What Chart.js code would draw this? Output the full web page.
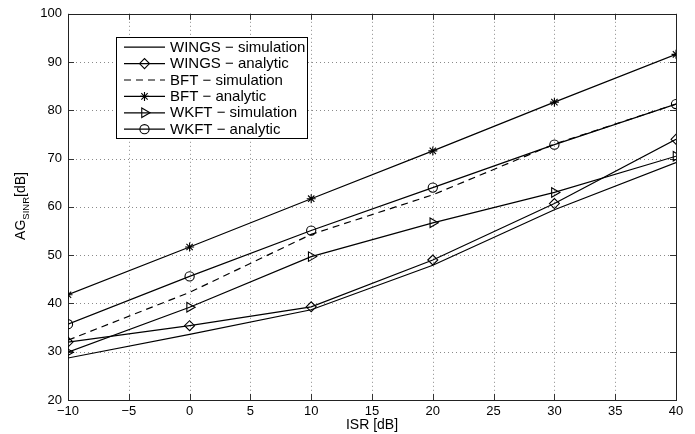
<!DOCTYPE html>
<html>
<head>
<meta charset="utf-8">
<script src="https://cdn.jsdelivr.net/npm/chart.js@4/dist/chart.umd.min.js"></script>
<style>
  html, body { margin: 0; padding: 0; background: #fff; }
  #wrap { width: 695px; height: 434px; }
</style>
</head>
<body>
<div id="wrap"><canvas id="c" width="695" height="434"></canvas></div>
<script>
// ISR sweep points [dB]
const isr = [-10, 0, 10, 20, 30, 40];

// Array gain of SINR [dB] per method
const wingsSim = [28.7, 33.6, 38.7, 47.9, 59.4, 69.2];
const wingsAna = [32.0, 35.4, 39.3, 49.0, 60.7, 74.0];
const bftSim   = [32.4, 42.3, 54.3, 62.5, 73.0, 81.3];
const bftAna   = [41.8, 51.7, 61.7, 71.6, 81.7, 91.6];
const wkftSim  = [29.9, 39.2, 49.7, 56.7, 63.0, 70.5];
const wkftAna  = [35.7, 45.6, 55.1, 64.0, 72.9, 81.3];

const seriesNames = [
  'WINGS \u2212 simulation', 'WINGS \u2212 analytic',
  'BFT \u2212 simulation', 'BFT \u2212 analytic',
  'WKFT \u2212 simulation', 'WKFT \u2212 analytic'
];

const xTicks = [-10, -5, 0, 5, 10, 15, 20, 25, 30, 35, 40];
const yTicks = [20, 30, 40, 50, 60, 70, 80, 90, 100];

const FONT = '"Liberation Sans", Arial, Helvetica, sans-serif';

function pts(ys) { return isr.map((x, i) => ({ x: x, y: ys[i] })); }

const styles = [
  { pointStyle: false, radius: 0, rotation: 0, dash: [] },
  { pointStyle: 'rectRot', radius: 5, rotation: 0, dash: [] },
  { pointStyle: false, radius: 0, rotation: 0, dash: [7, 5] },
  { pointStyle: 'star', radius: 4.5, rotation: 0, dash: [] },
  { pointStyle: 'triangle', radius: 5.5, rotation: 90, dash: [] },
  { pointStyle: 'circle', radius: 4.6, rotation: 0, dash: [] }
];
const values = [wingsSim, wingsAna, bftSim, bftAna, wkftSim, wkftAna];

const datasets = values.map((v, i) => ({
  label: seriesNames[i],
  data: pts(v),
  borderColor: '#000',
  borderWidth: 1.2,
  borderDash: styles[i].dash,
  pointStyle: styles[i].pointStyle || 'circle',
  pointRadius: styles[i].pointStyle ? styles[i].radius : 0,
  pointHoverRadius: styles[i].pointStyle ? styles[i].radius : 0,
  pointRotation: styles[i].rotation,
  pointBorderColor: '#000',
  pointBackgroundColor: 'rgba(0,0,0,0)',
  pointBorderWidth: 1.1,
  fill: false,
  tension: 0
}));

// Dotted grid, inward ticks, boxed frame, titles and legend
const framePlugin = {
  id: 'frame',
  beforeDatasetsDraw(chart) {
    const { ctx, chartArea: a, scales: { x, y } } = chart;
    ctx.save();
    ctx.strokeStyle = '#8a8a8a';
    ctx.lineWidth = 1;
    ctx.setLineDash([1, 3]);
    xTicks.forEach(v => {
      if (v === -10 || v === 40) return;
      const px = Math.round(x.getPixelForValue(v)) + 0.5;
      ctx.beginPath(); ctx.moveTo(px, a.top); ctx.lineTo(px, a.bottom); ctx.stroke();
    });
    yTicks.forEach(v => {
      if (v === 20 || v === 100) return;
      const py = Math.round(y.getPixelForValue(v)) + 0.5;
      ctx.beginPath(); ctx.moveTo(a.left, py); ctx.lineTo(a.right, py); ctx.stroke();
    });
    ctx.setLineDash([]);
    ctx.strokeStyle = '#333';
    const tl = 6;
    xTicks.forEach(v => {
      const px = Math.round(x.getPixelForValue(v)) + 0.5;
      ctx.beginPath();
      ctx.moveTo(px, a.bottom); ctx.lineTo(px, a.bottom - tl);
      ctx.moveTo(px, a.top); ctx.lineTo(px, a.top + tl);
      ctx.stroke();
    });
    yTicks.forEach(v => {
      const py = Math.round(y.getPixelForValue(v)) + 0.5;
      ctx.beginPath();
      ctx.moveTo(a.left, py); ctx.lineTo(a.left + tl, py);
      ctx.moveTo(a.right, py); ctx.lineTo(a.right - tl, py);
      ctx.stroke();
    });
    ctx.strokeStyle = '#222';
    ctx.strokeRect(Math.round(a.left) + 0.5, Math.round(a.top) + 0.5,
                   Math.round(a.right - a.left), Math.round(a.bottom - a.top));
    ctx.restore();
  },
  afterDraw(chart) {
    const { ctx, chartArea: a } = chart;
    ctx.save();
    // y-axis title with subscript
    ctx.translate(19, 206);
    ctx.rotate(-Math.PI / 2);
    ctx.fillStyle = '#000';
    ctx.textBaseline = 'alphabetic';
    const big = '14px ' + FONT, small = '9.5px ' + FONT;
    ctx.font = big; const w1 = ctx.measureText('AG').width;
    ctx.font = small; const w2 = ctx.measureText('SINR').width;
    ctx.font = big; const w3 = ctx.measureText('[dB]').width;
    let sx = -(w1 + w2 + w3) / 2;
    ctx.font = big; ctx.fillText('AG', sx, 6); sx += w1;
    ctx.font = small; ctx.fillText('SINR', sx, 10); sx += w2;
    ctx.font = big; ctx.fillText('[dB]', sx, 6);
    ctx.restore();

    // legend box
    ctx.save();
    const lx = 116.5, ly = 37.5, lw = 191, lh = 101;
    ctx.fillStyle = '#fff';
    ctx.fillRect(lx, ly, lw, lh);
    ctx.strokeStyle = '#000';
    ctx.lineWidth = 1;
    ctx.strokeRect(lx, ly, lw, lh);
    ctx.font = '15px ' + FONT;
    ctx.textBaseline = 'middle';
    ctx.fillStyle = '#000';
    const rowY0 = 47.2, rowStep = 16.4;
    seriesNames.forEach((name, i) => {
      const ry = rowY0 + i * rowStep;
      ctx.strokeStyle = '#000';
      ctx.lineWidth = 1.2;
      ctx.setLineDash(styles[i].dash);
      ctx.beginPath(); ctx.moveTo(124, ry); ctx.lineTo(165, ry); ctx.stroke();
      ctx.setLineDash([]);
      if (styles[i].pointStyle) {
        ctx.fillStyle = 'rgba(0,0,0,0)';
        ctx.lineWidth = 1.1;
        Chart.helpers.drawPoint(ctx, {
          pointStyle: styles[i].pointStyle,
          radius: styles[i].radius,
          rotation: styles[i].rotation,
          borderWidth: 1.1
        }, 144.5, ry);
      }
      ctx.fillStyle = '#000';
      ctx.fillText(name, 170, ry + 0.5);
    });
    ctx.restore();

    // x-axis title
    ctx.save();
    ctx.font = '14px ' + FONT;
    ctx.fillStyle = '#000';
    ctx.textAlign = 'center';
    ctx.textBaseline = 'middle';
    ctx.fillText('ISR [dB]', (a.left + a.right) / 2, 425);
    ctx.restore();
  }
};

const fmt = v => (v < 0 ? '\u2212' + Math.abs(v) : String(v));

new Chart(document.getElementById('c'), {
  type: 'line',
  data: { datasets: datasets },
  options: {
    responsive: false,
    animation: false,
    events: [],
    layout: { padding: { top: 10, right: 19, left: 0, bottom: 0 } },
    plugins: { legend: { display: false }, tooltip: { enabled: false } },
    scales: {
      x: {
        type: 'linear', min: -10, max: 40,
        afterBuildTicks: s => { s.ticks = xTicks.map(v => ({ value: v })); },
        afterFit: s => { s.height = 34; },
        grid: { display: false, drawTicks: false },
        border: { display: false },
        ticks: { padding: 4, color: '#000', font: { family: FONT, size: 13 },
                 maxRotation: 0, autoSkip: false, callback: v => fmt(v) }
      },
      y: {
        type: 'linear', min: 20, max: 100,
        afterBuildTicks: s => { s.ticks = yTicks.map(v => ({ value: v })); },
        afterFit: s => { s.width = 68; },
        grid: { display: false, drawTicks: false },
        border: { display: false },
        ticks: { padding: 6, color: '#000', font: { family: FONT, size: 13 },
                 autoSkip: false, callback: v => fmt(v) }
      }
    }
  },
  plugins: [framePlugin]
});
</script>
</body>
</html>
